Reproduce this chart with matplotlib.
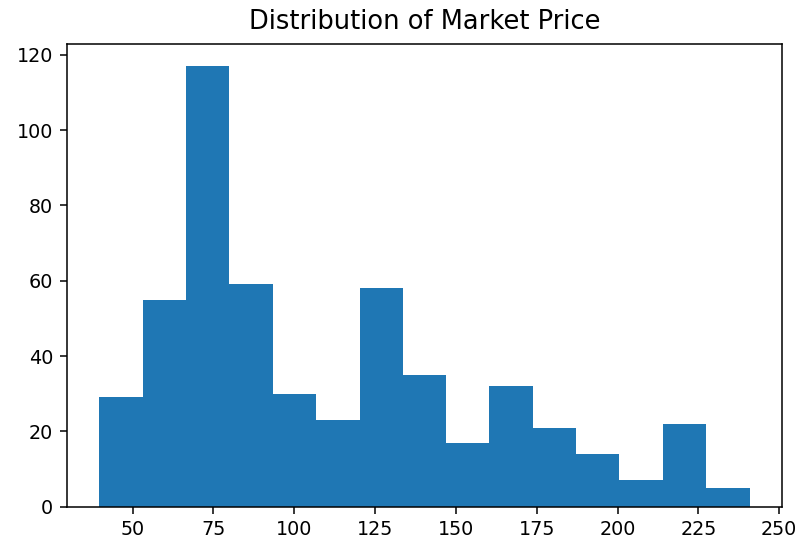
import matplotlib
matplotlib.use("Agg")
import matplotlib.pyplot as plt

# histogram: 15 bins from ~39.7 to ~240.9
bin_edges = [39.7, 53.1, 66.5, 79.9, 93.3, 106.8, 120.2, 133.6,
             147.0, 160.4, 173.8, 187.2, 200.6, 214.1, 227.5, 240.9]
counts = [29, 55, 117, 59, 30, 23, 58, 35, 17, 32, 21, 14, 7, 22, 5]

dpi = 137.5
fig = plt.figure(figsize=(802 / dpi, 547 / dpi), dpi=dpi)
ax = fig.add_axes([0.0832, 0.0737, 0.9754 - 0.0832, 0.9196 - 0.0737])

centers = [(a + b) / 2 for a, b in zip(bin_edges[:-1], bin_edges[1:])]
ax.hist(centers, bins=bin_edges, weights=counts, color="#1f77b4")

ax.set_title("Distribution of Market Price", fontsize=13.5, pad=8)
ax.set_xticks([50, 75, 100, 125, 150, 175, 200, 225, 250])
ax.set_yticks([0, 20, 40, 60, 80, 100, 120])

fig.savefig("out.png", dpi=dpi)
